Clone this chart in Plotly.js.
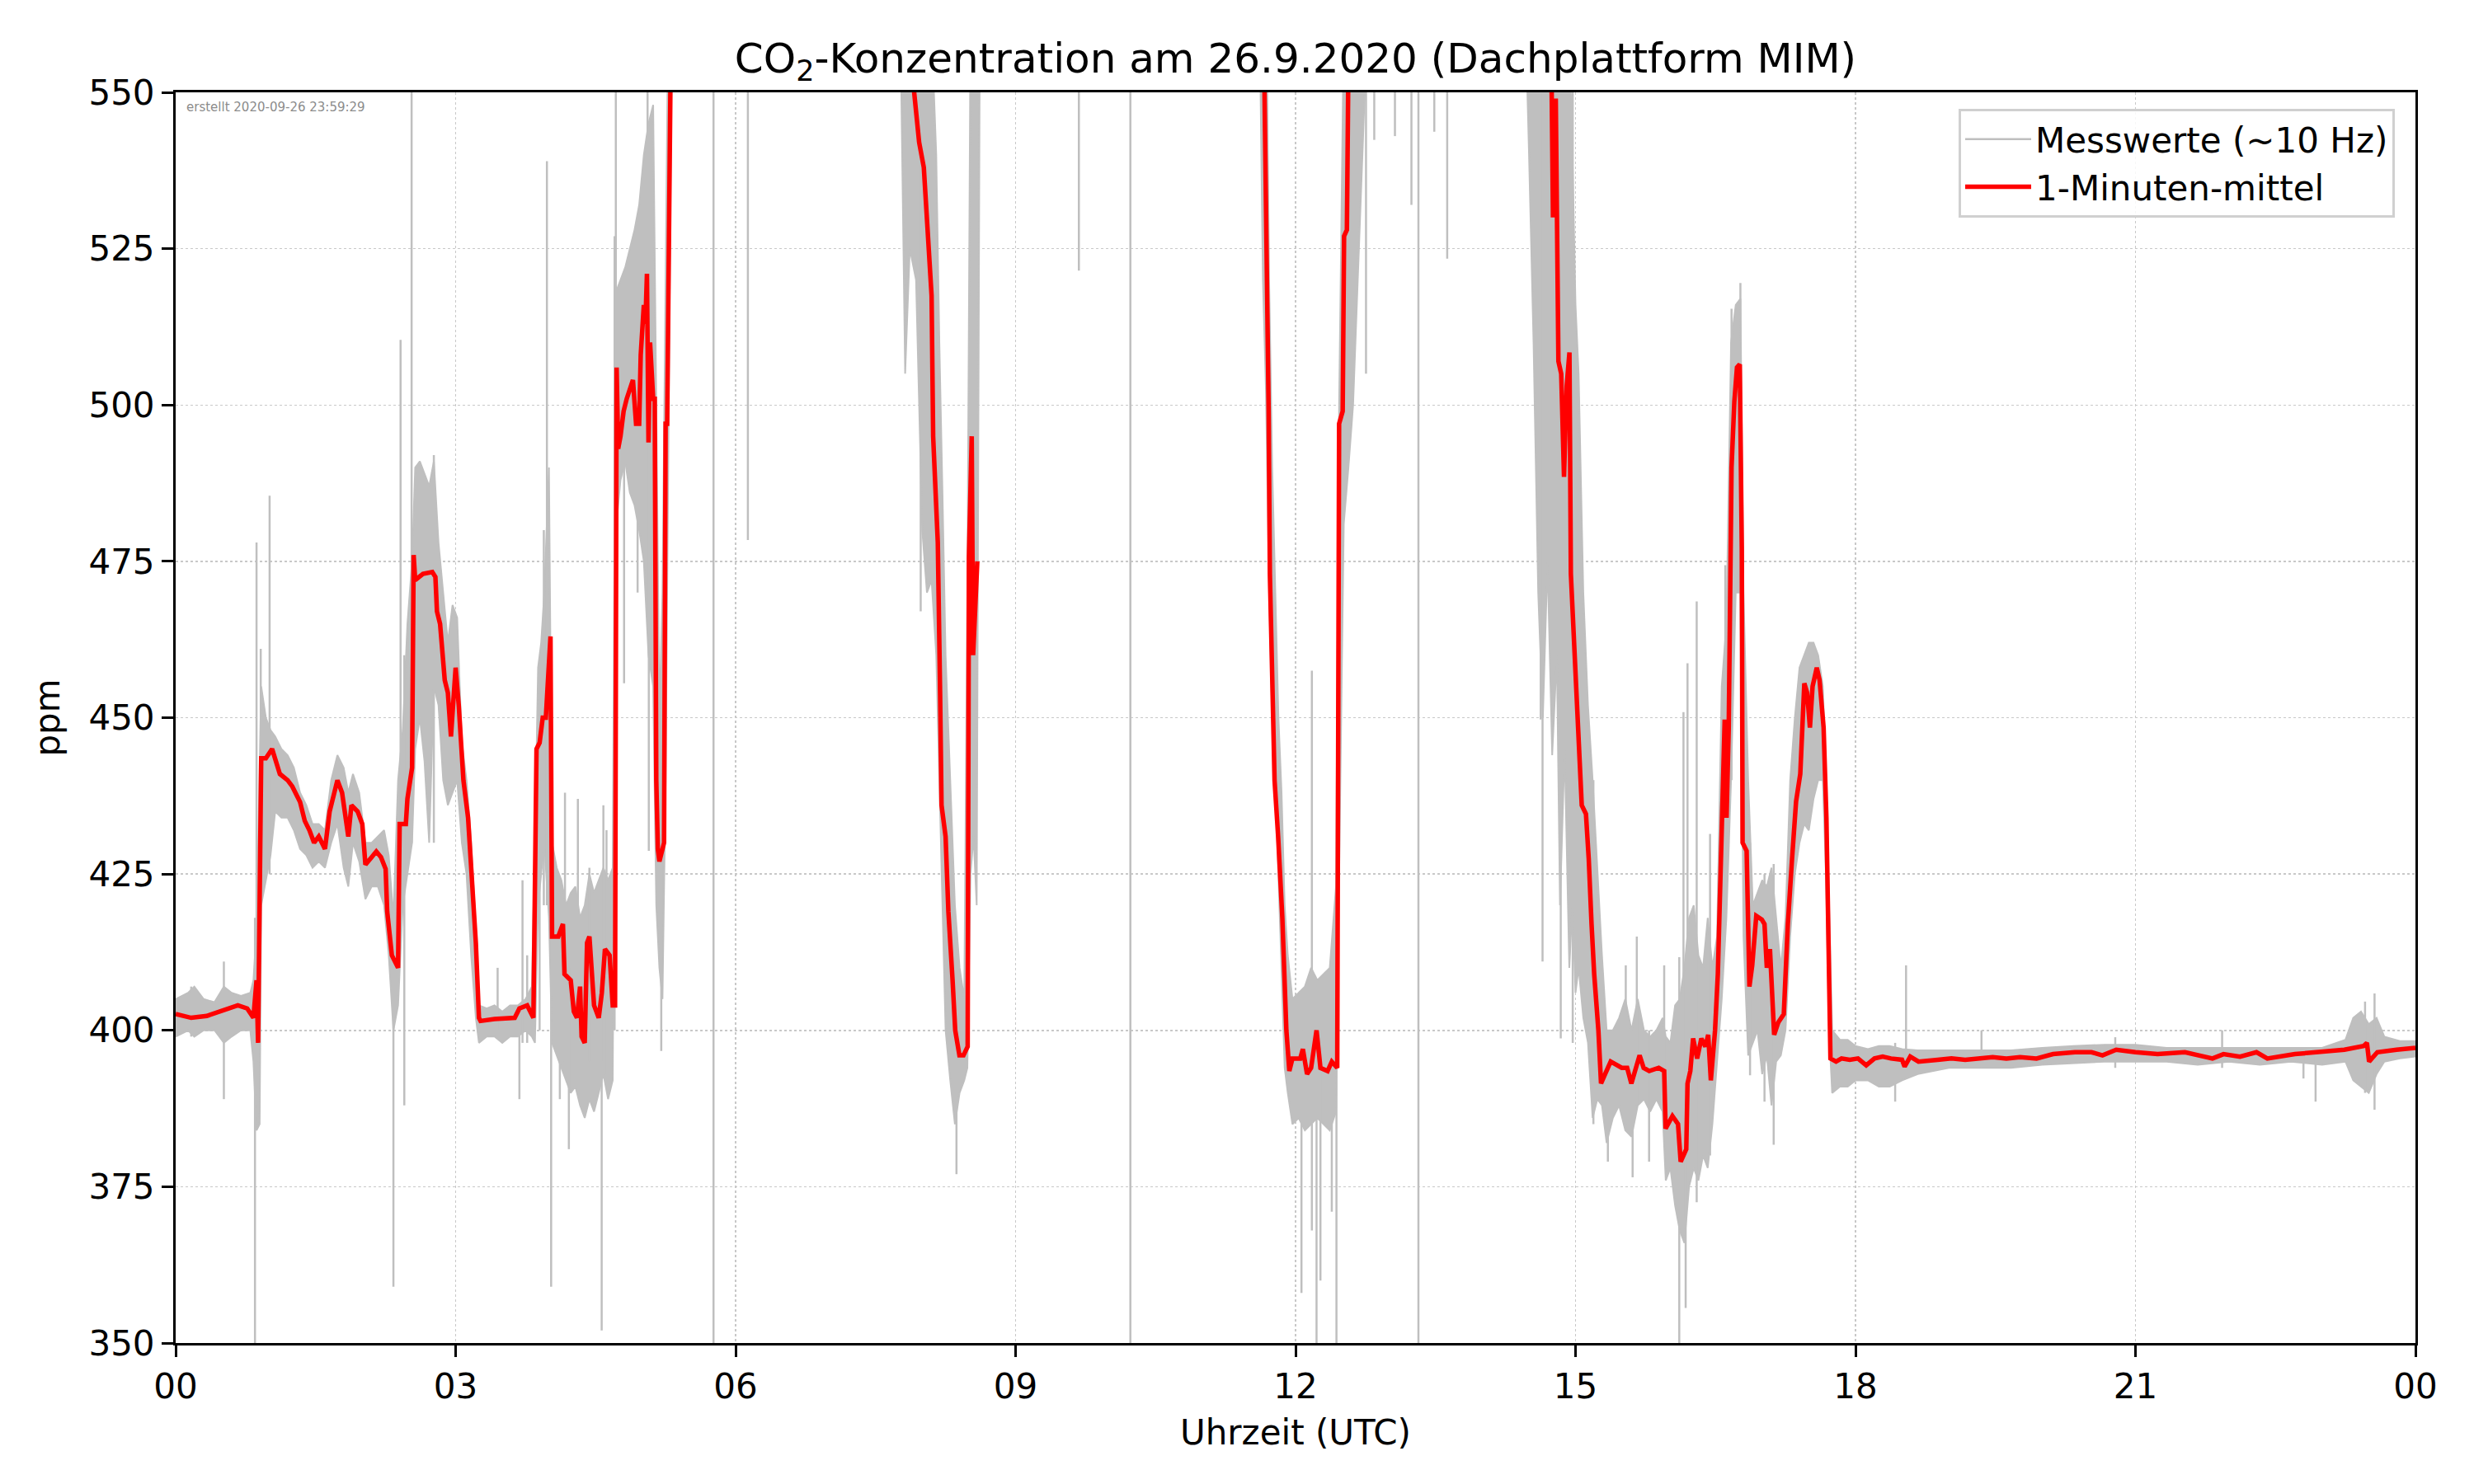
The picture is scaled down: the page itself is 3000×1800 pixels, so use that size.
<!DOCTYPE html>
<html>
<head>
<meta charset="utf-8">
<script src="https://cdn.plot.ly/plotly-3.0.1.min.js"></script>
<style>
  body { margin: 0; background: #fff; }
  #chart { width: 3000px; height: 1800px; }
</style>
</head>
<body>
<div id="chart"></div>
<script>
// Zeit in Minuten seit 00 UTC, Werte in ppm

// 1-Minuten-Mittel (null = Datenluecke, Werte > 550 liegen ausserhalb)
const rT = [0, 10, 20, 32, 40, 46, 50, 52, 53, 55, 58, 62, 67, 72, 75, 80, 83, 86, 89, 92, 96, 99, 104, 107, 111, 113, 117, 120, 122, 126, 129, 132, 135, 136, 139, 143, 144, 148, 149, 152, 153, 154, 159, 165, 167, 168, 170, 173, 175, 177, 180, 182, 185, 188, 190, 193, 195, 196, 205, 218, 221, 226, 230, 232, 234, 236, 238, 241, 242, 246, 249, 250, 254, 256, 258, 260, 261, 263, 264.5, 266, 269, 272, 274, 276, 279, 281, 282.5, 283.5, 284.5, 286, 288, 290, 294, 296, 298, 299, 301, 302, 303, 304, 305, 307, 308, 309, 310, 311, 314, 315, 316, 318, 320, 400, 472, 474, 478, 481, 483.5, 486, 487, 490, 491.5, 492.4, 495, 496.8, 499.5, 501.2, 503.9, 506.5, 509.2, 510, 511.8, 512.7, 515.4, 516, 699, 701.8, 702.7, 703.5, 705, 706.5, 708.8, 711.5, 714.1, 716, 718, 723, 724.7, 727.4, 730, 733.5, 736, 740.6, 743.3, 746.8, 748, 750.3, 751.2, 753, 754, 760, 820, 880, 884.6, 885.5, 887.3, 889, 890.8, 892.6, 894.3, 896.1, 897, 899.6, 902.3, 904, 906.7, 908.5, 910.3, 912, 914.7, 916.4, 919, 922.6, 929.7, 933.2, 935.9, 938.5, 941.2, 943.8, 947.4, 953.5, 957, 957.9, 962.3, 965.9, 967.6, 971.2, 972, 973.8, 975.6, 978.2, 980.9, 983.5, 985.3, 987, 989.7, 991.5, 994.1, 995.9, 997.1, 998.5, 1000.3, 1002.1, 1003.8, 1005.6, 1006.9, 1007.4, 1010, 1010.9, 1011.8, 1013.6, 1016.2, 1019.8, 1021.5, 1023, 1025, 1027.7, 1030.4, 1033.9, 1036.5, 1039.2, 1041.8, 1044.5, 1047.1, 1048.9, 1050.7, 1052.4, 1055.1, 1056.9, 1059.5, 1061.3, 1063, 1063.9, 1067.5, 1071, 1076.3, 1081.6, 1086.9, 1092.2, 1097.5, 1102.8, 1109.9, 1111.6, 1115.2, 1120.5, 1132.8, 1141.7, 1150.5, 1159.4, 1168.2, 1177, 1185.8, 1196.4, 1207, 1221.1, 1231.7, 1238.8, 1247.6, 1260, 1274.2, 1291.8, 1309.5, 1316.6, 1327.2, 1337.8, 1344.8, 1362.5, 1380.2, 1394.3, 1406.7, 1408.8, 1410.2, 1415.5, 1427.9, 1440];
const rV = [402.6, 402, 402.3, 403.3, 404, 403.5, 402, 408, 398, 443.5, 443.5, 445, 441, 440, 439, 436.5, 433.5, 432, 430, 431, 429, 435, 440, 438, 431, 436, 435, 433, 426.5, 427.7, 428.6, 427.7, 425.8, 419, 412, 410, 433, 433, 437, 442, 476, 472, 473, 473.3, 472.5, 467, 465, 456, 454, 447, 458, 452, 440, 434, 426, 414, 402, 401.5, 401.8, 402, 403.5, 404, 402, 445, 446, 450, 450, 463, 415, 415, 417, 409, 408, 403, 402, 407, 399, 398, 414, 415, 404, 402, 406, 413, 412, 404, 404, 506, 493, 495, 499, 501, 504, 497, 497, 508, 516, 513, 521, 494, 510, 501, 501, 440, 429, 427, 430, 497, 497, 560, 600, 620, 600, 552, 542, 538, 528, 517.5, 495, 478, 453.5, 436, 431, 419, 408, 400, 396, 396, 397.4, 475.7, 495, 460, 475, null, 570, 525, 499, 473, 455, 440, 431, 418, 400, 393.5, 395.5, 395.5, 397, 393, 394, 400, 394, 393.5, 395, 394, 497, 499, 527, 528, 555, 600, 620, 600, 552, 530, 549, 507, 505, 488.5, 503, 508.4, 473, 460, 444, 436, 434.6, 427.4, 417, 409, 400, 391.5, 393, 395, 394, 394, 391.5, 393.5, 396, 394, 393.5, 394, 393.5, 384.3, 386.3, 385, 379, 381, 391.5, 393.5, 398.7, 395.5, 398.7, 397.4, 399.3, 392, 400, 409, 434, 449.7, 434, 448.4, 490, 500.5, 506, 506.5, 477, 430, 428.7, 418.3, 407, 410.4, 418.3, 417.7, 417, 410, 413, 399.3, 401.3, 402.6, 417, 427.4, 436.6, 441, 455.5, 454, 448.4, 455, 458, 456, 448.4, 434, 410.4, 395.5, 395, 395.5, 395.3, 395.5, 394.4, 395.5, 395.8, 395.5, 395.3, 394.2, 395.8, 395, 395.3, 395.5, 395.3, 395.5, 395.7, 395.5, 395.7, 395.5, 396.2, 396.5, 396.5, 396, 396.9, 396.5, 396.2, 396.5, 395.5, 396.2, 395.8, 396.5, 395.5, 396.2, 396.5, 396.9, 397.5, 398, 395, 396.5, 396.9, 397.2];

// Messwerte: Streubreite (unten / oben) der Rohdaten
const gT = [0, 8, 12, 18, 25, 31, 36, 42, 48, 50, 52, 54, 55, 58, 61, 64, 68, 72, 76, 80, 84, 88, 92, 96, 100, 104, 108, 111, 114, 118, 122, 126, 130, 134, 137, 140, 143, 146, 149, 152, 154, 157, 160, 163, 166, 169, 172, 175, 178, 181, 184, 187, 190, 193, 195, 200, 205, 210, 215, 220, 225, 229, 231, 233, 235, 237, 240, 242, 245, 248, 251, 254, 257, 260, 263, 266, 269, 272, 275, 278, 281, 283, 286, 289, 292, 295, 298, 301, 304, 307, 309, 311, 313, 315, 317, 319, 466, 469, 472, 476, 480, 483, 486, 489, 491, 493, 495, 498, 501, 504, 507, 509, 511, 513, 515, 517, 697, 699, 701, 703, 705, 707, 709, 711, 713, 715, 718, 722, 726, 730, 734, 738, 742, 746, 748, 751, 754, 757, 766, 868, 870, 873, 876, 879, 882, 885, 888, 890, 893, 896, 898, 900, 902, 905, 908, 911, 914, 917, 920, 924, 928, 932, 936, 940, 944, 948, 952, 956, 958, 961, 964, 967, 970, 973, 976, 979, 982, 985, 988, 991, 994, 997, 1000, 1003, 1006, 1008, 1011, 1014, 1017, 1020, 1023, 1026, 1029, 1032, 1035, 1038, 1041, 1044, 1047, 1050, 1053, 1056, 1059, 1061, 1063, 1065, 1070, 1075, 1080, 1088, 1095, 1102, 1110, 1120, 1140, 1160, 1180, 1200, 1220, 1240, 1260, 1280, 1300, 1320, 1340, 1360, 1380, 1395, 1400, 1405, 1410, 1415, 1420, 1430, 1440];
const gLo = [399, 400, 399, 400, 400, 398, 399, 400, 400, 395, 384, 385, 420, 424, 428, 435, 434, 434, 432, 429, 428, 426, 427, 426, 430, 433, 426, 423, 430, 427, 421, 423, 423, 420, 412, 400, 404, 420, 425, 430, 445, 450, 443, 430, 455, 452, 440, 436, 438, 440, 430, 425, 412, 402, 398, 399, 399, 398, 399, 399, 400, 399, 398, 420, 425, 430, 418, 398, 396, 394, 392, 390, 391, 388, 386, 389, 387, 390, 393, 389, 392, 480, 488, 491, 486, 484, 480, 475, 460, 455, 420, 410, 405, 440, 500, 560, 560, 505, 525, 520, 480, 470, 472, 460, 440, 420, 400, 392, 385, 390, 392, 394, 425, 431, 420, 560, 560, 520, 502, 470, 450, 440, 425, 408, 394, 390, 385, 386, 384, 385, 386, 385, 384, 387, 423, 481, 490, 500, 560, 560, 541, 510, 470, 450, 475, 444, 460, 420, 445, 410, 420, 406, 410, 402, 398, 386, 389, 388, 382, 386, 388, 384, 383, 388, 389, 387, 389, 387, 376, 378, 372, 368, 366, 375, 378, 376, 380, 378, 385, 395, 405, 418, 440, 470, 470, 415, 396, 398, 400, 393, 396, 388, 395, 396, 400, 415, 425, 430, 433, 432, 437, 440, 440, 425, 400, 390, 391, 391, 392, 392, 391, 391, 392, 393, 394, 394, 394, 394.5, 394.7, 395, 395, 395, 394.5, 395, 394.5, 395, 394.5, 395, 392, 391, 390, 393, 395, 395.5, 395.8];
const gHi = [405, 406, 407, 405, 404.5, 407, 406, 405.5, 406, 408, 416, 440, 455, 450, 448, 447, 445, 444, 442, 438, 436, 433, 433, 432, 440, 444, 442, 438, 441, 438, 430, 430, 431, 432, 428, 418, 440, 448, 465, 475, 490, 491, 489, 487, 491, 478, 470, 462, 468, 466, 446, 440, 430, 416, 404, 403.5, 404, 403, 404, 404, 405, 407, 430, 458, 462, 470, 490, 430, 426, 424, 420, 422, 423, 418, 420, 425, 422, 424, 426, 424, 426, 518, 520, 522, 525, 528, 532, 540, 545, 548, 500, 450, 470, 530, 570, 600, 600, 590, 590, 580, 570, 560, 560, 540, 510, 486, 460, 440, 420, 410, 405, 470, 560, 565, 575, 600, 600, 590, 570, 520, 490, 470, 450, 438, 420, 412, 405, 406, 407, 410, 408, 409, 410, 423, 500, 560, 590, 600, 600, 600, 600, 600, 600, 600, 600, 600, 600, 590, 580, 560, 540, 516, 505, 470, 452, 440, 425, 412, 400, 400, 402, 405, 400, 405, 400, 399, 400, 402, 399, 398, 404, 405, 410, 418, 420, 412, 410, 418, 410, 415, 455, 465, 510, 516, 517, 470, 440, 420, 422, 424, 423, 426, 418, 410, 418, 440, 450, 458, 460, 462, 462, 460, 455, 440, 420, 400, 398.5, 398.5, 397.5, 397, 397.5, 397.5, 397, 396.8, 396.8, 396.8, 396.8, 397.2, 397.5, 397.7, 397.7, 397.2, 397.2, 397.2, 397.2, 397.2, 397.2, 398.5, 402, 403, 401, 402, 399, 398.3, 398.3];

// einzelne Ausreisser der Rohdaten
const spT = [10, 31, 51, 52, 54.7, 60.4, 140, 144.6, 147, 151.7, 166, 207, 221, 223, 226, 234, 236.7, 238.7, 241.4, 244, 247, 250.3, 252.8, 258.6, 266, 273.9, 275, 277, 282.2, 283, 288.3, 297, 303.4, 304.2, 312.2, 345.8, 367.9, 479, 502, 580.7, 613.8, 723.8, 730.5, 733.5, 736, 743.3, 746.3, 765.3, 770.6, 783.9, 794.5, 799, 809.2, 817.5, 874, 877.6, 878.8, 890.5, 898.2, 911.5, 920.8, 932.3, 936.7, 939.4, 947.3, 957, 966.7, 969.4, 970.8, 972, 977.9, 986.5, 996.3, 1000.3, 1006, 1012.2, 1021.5, 1027.4, 1105.5, 1112.5, 1161, 1247, 1315.7, 1368, 1375.8, 1407.6, 1413.7];
const spLo = [399, 389, 350, 395, 420, 425, 359, 420, 388, 430, 430, 400, 389, 398, 398, 400, 420, 420, 359, 398, 389, 395, 381, 395, 395, 352, 395, 393, 400, 480, 455.5, 470, 480, 428.7, 396.7, 350, 478.4, 467, 377, 521.5, 350, 358, 368, 350, 360, 371, 350, 505, 542.4, 543, 532, 350, 543.7, 523.4, 502, 449.7, 411, 398.7, 398, 385, 379, 385, 376.5, 388, 379, 385, 350, 370, 355.6, 380, 372.5, 380, 420, 440, 470, 392.8, 388.6, 381.7, 388.6, 393, 394, 394, 394, 392.3, 388.6, 390, 387.3];
const spHi = [407, 411, 418, 478, 461, 485.5, 418, 510.4, 460, 560, 492, 410, 404, 424, 412, 440, 480, 539, 440, 427, 416, 438, 410, 437, 426, 420, 436, 432, 527, 560, 510, 520, 560, 510, 440, 560, 560, 560, 410, 560, 560, 400, 457.5, 400, 400, 400, 423, 560, 560, 560, 560, 560, 560, 560, 560, 560, 560, 560, 560, 440, 400, 410.4, 400, 415, 400, 410.4, 411.7, 450.9, 405, 458.7, 468.6, 431.4, 474.4, 515.4, 519.5, 430, 425, 426.6, 398, 410.4, 400, 398.9, 400, 396, 397, 404.6, 405.9];

const tickVals = [0, 180, 360, 540, 720, 900, 1080, 1260, 1440];
const tickText = ['00', '03', '06', '09', '12', '15', '18', '21', '00'];

const grey = '#bfbfbf';
const font = 'DejaVu Sans, sans-serif';

const spX = [], spY = [];
spT.forEach((t, i) => {
  spX.push(t, t, null);
  spY.push(spLo[i], spHi[i], null);
});

const traces = [
  {
    x: gT, y: gLo, type: 'scatter', mode: 'lines',
    line: { color: grey, width: 2 },
    showlegend: false, hoverinfo: 'skip'
  },
  {
    x: gT, y: gHi, type: 'scatter', mode: 'lines',
    fill: 'tonexty', fillcolor: grey,
    line: { color: grey, width: 2 },
    showlegend: false, hoverinfo: 'skip'
  },
  {
    x: spX, y: spY, type: 'scatter', mode: 'lines',
    name: 'Messwerte (~10 Hz)',
    line: { color: grey, width: 2.5 }
  },
  {
    x: rT, y: rV, type: 'scatter', mode: 'lines',
    name: '1-Minuten-mittel',
    line: { color: '#ff0000', width: 5.5 }
  }
];

const axisCommon = {
  showline: true, mirror: true, linecolor: '#000', linewidth: 3,
  ticks: 'outside', ticklen: 14, tickwidth: 3, tickcolor: '#000',
  tickfont: { family: font, size: 42, color: '#000' },
  showgrid: true, gridcolor: '#c8c8c8', gridwidth: 1.5, griddash: 'dot',
  zeroline: false
};

const layout = {
  width: 3000, height: 1800,
  margin: { l: 213, r: 71, t: 112, b: 171 },
  paper_bgcolor: '#fff', plot_bgcolor: '#fff',
  font: { family: font, color: '#000' },
  title: {
    text: 'CO<sub>2</sub>-Konzentration am 26.9.2020 (Dachplattform MIM)',
    font: { family: font, size: 50, color: '#000' },
    x: 0.5, xref: 'paper', y: 0.961, yref: 'container', yanchor: 'middle'
  },
  xaxis: Object.assign({}, axisCommon, {
    range: [0, 1440],
    tickmode: 'array', tickvals: tickVals, ticktext: tickText,
    title: { text: 'Uhrzeit (UTC)', font: { family: font, size: 42 }, standoff: 18 }
  }),
  yaxis: Object.assign({}, axisCommon, {
    range: [350, 550], dtick: 25, tick0: 350,
    title: { text: 'ppm', font: { family: font, size: 42 }, standoff: 22 }
  }),
  legend: {
    x: 0.9908, xanchor: 'right', y: 0.9868, yanchor: 'top',
    traceorder: 'normal', itemwidth: 80,
    bgcolor: 'rgba(255,255,255,0.85)', bordercolor: '#d0d0d0', borderwidth: 3,
    font: { family: font, size: 42, color: '#000' },
    tracegroupgap: 0
  },
  annotations: [{
    text: 'erstellt 2020-09-26 23:59:29',
    xref: 'paper', yref: 'paper', x: 0.004, y: 0.988,
    xanchor: 'left', yanchor: 'middle', showarrow: false,
    font: { family: font, size: 15, color: '#8c8c8c' }
  }]
};

Plotly.newPlot('chart', traces, layout, { staticPlot: true });
</script>
</body>
</html>
